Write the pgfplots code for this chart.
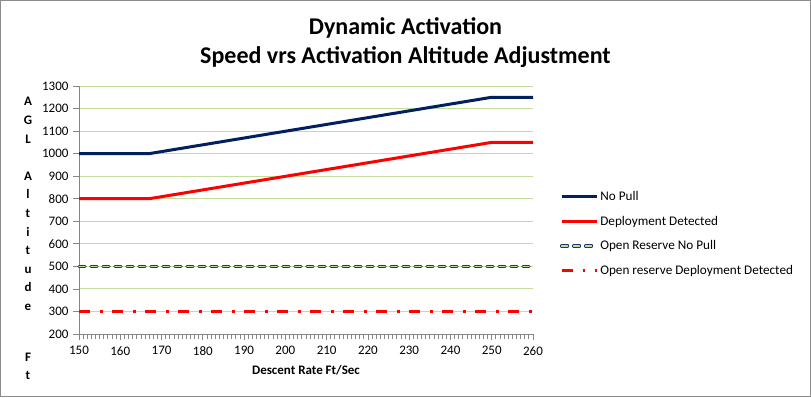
\documentclass[border=0pt]{standalone}
\usepackage{pgfplots}
\pgfplotsset{compat=1.18}
\usepackage{fontspec}
\setmainfont{Carlito}
\definecolor{navy}{HTML}{002060}
\definecolor{navyb}{HTML}{1F3864}
\definecolor{gridg}{HTML}{C3DE9B}
\definecolor{axgray}{HTML}{868686}
\definecolor{frame}{HTML}{8C8C8C}
\begin{document}
\begin{tikzpicture}[x=1pt,y=1pt]
\draw[frame, line width=1pt] (0.5,0.5) rectangle (810.5,396.5);
\node[font=\bfseries\fontsize{24}{28}\selectfont, anchor=base] at (405.5, 362) {Dynamic Activation};
\node[font=\bfseries\fontsize{24}{28}\selectfont, anchor=base] at (405.5, 333) {Speed vrs Activation Altitude Adjustment};
\node[font=\bfseries\fontsize{13}{18.6}\selectfont, align=center, anchor=north] at (28, 303)
  {A\\G\\L\\[18.6pt]A\\l\\t\\i\\t\\u\\d\\e\\[32pt]F\\t};
\begin{axis}[
  at={(79pt,63pt)}, anchor=south west,
  scale only axis, width=454pt, height=248pt,
  xmin=150, xmax=260, ymin=200, ymax=1300,
  xtick={150,160,...,260}, ytick={200,300,...,1300},
  minor x tick num=9,
  axis lines*=left,
  axis line style={axgray, line width=1pt},
  tick style={axgray, line width=0.8pt},
  tick align=outside,
  major tick length=6pt, minor tick length=5pt,
  ymajorgrids, grid style={gridg, line width=1pt},
  ticklabel style={font=\fontsize{13}{15}\selectfont},
  /pgf/number format/assume math mode=true,
  /pgf/number format/1000 sep={},
  yticklabel style={xshift=-1pt},
  xticklabel style={yshift=-3pt},
  xlabel={Descent Rate Ft/Sec},
  xlabel style={font=\bfseries\fontsize{13}{15}\selectfont, yshift=-3pt},
  legend style={at={(1.052,0.405)}, anchor=west, draw=none, fill=none,
    font=\fontsize{13.2}{15}\selectfont, row sep=10pt,
    legend cell align=left},
  legend image code/.code={\draw[#1] (0pt,0pt) -- (35pt,0pt);},
  clip=false,
]
\addplot[navy, line width=3pt, line join=round] coordinates {(150,1000) (167,1000) (250,1250) (260,1250)};
\addlegendentry{No Pull}
\addplot[red, line width=3pt, line join=round] coordinates {(150,800) (167,800) (250,1050) (260,1050)};
\addlegendentry{Deployment Detected}
\addplot[navyb, line width=1pt, double=gridg, double distance=1.3pt, line cap=round, dash pattern=on 6pt off 6pt] coordinates {(150,500) (260,500)};
\addlegendentry{Open Reserve No Pull}
\addplot[red, line width=3.5pt, dash pattern=on 11pt off 10pt on 2.5pt off 9.5pt] coordinates {(150,300) (260,300)};
\addlegendentry{Open reserve Deployment Detected}
\end{axis}
\end{tikzpicture}
\end{document}
